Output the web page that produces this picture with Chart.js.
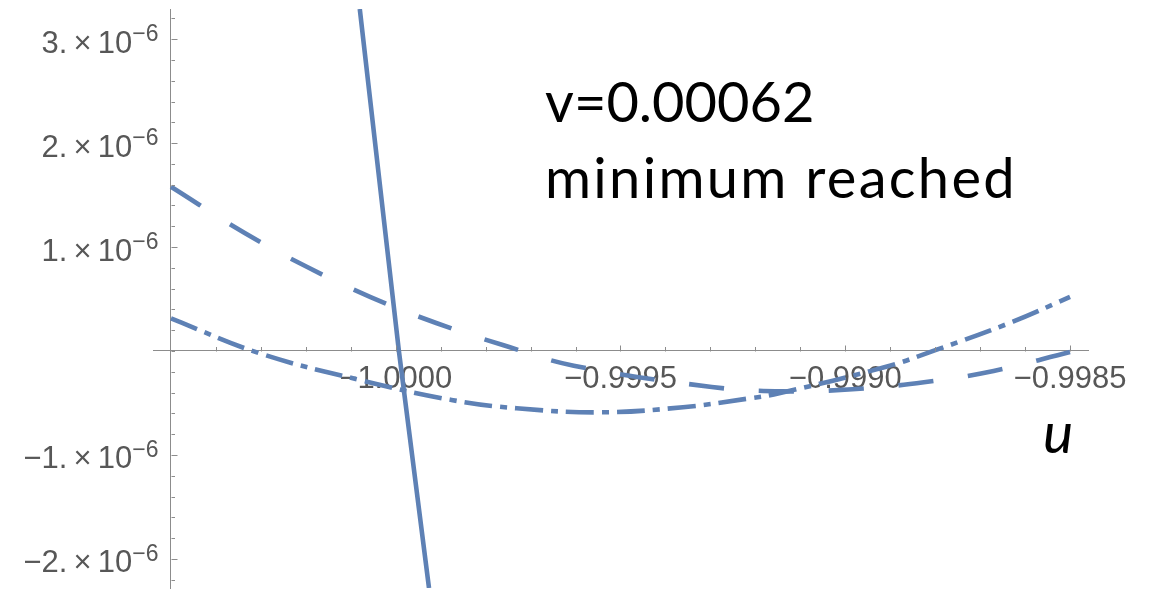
<!DOCTYPE html>
<html>
<head>
<meta charset="utf-8">
<script src="https://cdn.jsdelivr.net/npm/chart.js@4.4.1/dist/chart.umd.min.js"></script>
<style>
  html, body { margin: 0; padding: 0; background: #ffffff; }
</style>
</head>
<body>
<canvas id="uPlot" width="1155" height="602"></canvas>
<script>
// values (u on x, value on y)
var solidU = [-1.00008, -0.999993, -0.999926];
var solidV = [3.29e-6, 0, -2.28e-6];

var dashedU = [-1.0005, -1.000336, -1.000198, -1.000056, -0.99991, -0.99976, -0.999604, -0.999297, -0.99914, -0.998984, -0.998825, -0.99867, -0.9985];
var dashedV = [1.58e-6, 1.135e-6, 0.81e-6, 0.519e-6, 0.269e-6, 0.055e-6, -0.141e-6, -0.346e-6, -0.388e-6, -0.368e-6, -0.301e-6, -0.192e-6, -0.01e-6];

var dotDashU = [-1.0005, -1.000303, -1.00008, -0.999876, -0.999731, -0.999546, -0.999361, -0.999212, -0.999147, -0.998909, -0.998798, -0.998627, -0.9985];
var dotDashV = [0.314e-6, -0.022e-6, -0.279e-6, -0.471e-6, -0.551e-6, -0.59e-6, -0.541e-6, -0.455e-6, -0.407e-6, -0.151e-6, 0.01e-6, 0.282e-6, 0.52e-6];

var xMajor = [-1.0000, -0.9995, -0.9990, -0.9985];
var xMajorLabels = ["\u22121.0000", "\u22120.9995", "\u22120.9990", "\u22120.9985"];
var xMinorStep = 0.0001;

var yMajor = [3e-6, 2e-6, 1e-6, -1e-6, -2e-6];
var yMantissas = ["3.\u2009\u00d7\u200910", "2.\u2009\u00d7\u200910", "1.\u2009\u00d7\u200910", "\u22121.\u2009\u00d7\u200910", "\u22122.\u2009\u00d7\u200910"];
var yExponent = "\u22126";
var yMinorStep = 0.2e-6;

var noteLines = ["v=0.00062", "minimum reached"];
var xTitle = "u";

var lineBlue = "#5e81b5";
var axisGray = "#8c8c8c";
var labelGray = "#575757";
var tickFont = "'Liberation Sans', Arial, sans-serif";

function toPoints(us, vs) {
  return us.map(function (u, i) { return { x: u, y: vs[i] }; });
}

function stepTicks(min, max, step) {
  var out = [];
  var k0 = Math.ceil(min / step - 1e-6);
  var k1 = Math.floor(max / step + 1e-6);
  for (var k = k0; k <= k1; k++) out.push(+(k * step).toPrecision(8));
  return out;
}

function majorIndex(list, v, eps) {
  for (var i = 0; i < list.length; i++) if (Math.abs(list[i] - v) < eps) return i;
  return -1;
}

// Mathematica-style inner tick marks and y labels with a raised exponent
var axisMarks = {
  id: "axisMarks",
  afterDatasetsDraw: function (chart) {
    var ctx = chart.ctx, xs = chart.scales.x, ys = chart.scales.y;
    var xAxisPx = xs.getPixelForValue(-1.0005);
    var x0 = Math.round(xAxisPx) + 0.5;
    var y0 = Math.round(ys.getPixelForValue(0)) + 0.5;
    ctx.save();
    ctx.strokeStyle = axisGray;
    ctx.lineWidth = 1;
    ctx.beginPath();
    xs.ticks.forEach(function (t) {
      var px = Math.round(xs.getPixelForValue(t.value)) + 0.5;
      var len = majorIndex(xMajor, t.value, 1e-9) >= 0 ? 6 : 4.5;
      ctx.moveTo(px, y0);
      ctx.lineTo(px, y0 - len);
    });
    ys.ticks.forEach(function (t) {
      var py = Math.round(ys.getPixelForValue(t.value)) + 0.5;
      var len = majorIndex(yMajor, t.value, 1e-12) >= 0 ? 6 : 3.5;
      ctx.moveTo(x0, py);
      ctx.lineTo(x0 + len, py);
    });
    ctx.stroke();

    ctx.fillStyle = labelGray;
    ctx.textBaseline = "alphabetic";
    var right = xAxisPx - 12.5;
    yMajor.forEach(function (v, i) {
      var py = ys.getPixelForValue(v);
      ctx.font = "23px " + tickFont;
      var sw = ctx.measureText(yExponent).width;
      ctx.textAlign = "left";
      ctx.fillText(yExponent, right - sw, py + 2);
      ctx.font = "31px " + tickFont;
      ctx.textAlign = "right";
      ctx.fillText(yMantissas[i], right - sw, py + 13.5);
    });
    ctx.restore();
  }
};

var notes = {
  id: "notes",
  afterDraw: function (chart) {
    var ctx = chart.ctx;
    ctx.save();
    ctx.fillStyle = "#000000";
    ctx.textBaseline = "alphabetic";
    ctx.textAlign = "left";
    ctx.font = "56px Lato";
    ctx.fillText(noteLines[0], 545, 122);
    ctx.letterSpacing = "2.3px";
    ctx.fillText(noteLines[1], 545, 198);
    ctx.letterSpacing = "0px";
    ctx.font = "italic 57px Lato";
    ctx.fillText(xTitle, 1043, 453);
    ctx.restore();
  }
};

new Chart(document.getElementById("uPlot"), {
  type: "line",
  data: {
    datasets: [
      { data: toPoints(solidU, solidV), tension: 0 },
      { data: toPoints(dashedU, dashedV), borderDash: [35, 35], tension: 0.4 },
      { data: toPoints(dotDashU, dotDashV), borderDash: [28, 8, 7, 8], tension: 0.4 },
    ],
  },
  options: {
    responsive: false,
    animation: false,
    devicePixelRatio: 1,
    layout: { padding: { left: 153, right: 67, top: 9, bottom: 14 } },
    elements: {
      point: { radius: 0 },
      line: { borderColor: lineBlue, borderWidth: 4.6, fill: false, borderCapStyle: "butt" },
    },
    plugins: {
      legend: { display: false },
      tooltip: { enabled: false },
      title: { display: false },
    },
    scales: {
      x: {
        type: "linear",
        min: -1.00054,
        max: -0.99846,
        position: { y: 0 },
        afterBuildTicks: function (s) {
          s.ticks = stepTicks(-1.00045, -0.99846, xMinorStep).map(function (v) { return { value: v }; });
        },
        afterFit: function (s) { s.paddingLeft = 0; s.paddingRight = 0; },
        grid: { drawOnChartArea: false, drawTicks: false },
        border: { display: true, color: axisGray, width: 1 },
        ticks: {
          autoSkip: false,
          maxRotation: 0,
          minRotation: 0,
          padding: 10,
          color: labelGray,
          font: { family: tickFont, size: 31 },
          callback: function (value) {
            var i = majorIndex(xMajor, value, 1e-9);
            return i >= 0 ? xMajorLabels[i] : "";
          },
        },
      },
      y: {
        type: "linear",
        min: -2.28e-6,
        max: 3.29e-6,
        position: { x: -1.0005 },
        afterBuildTicks: function (s) {
          s.ticks = stepTicks(-2.28e-6, 3.29e-6, yMinorStep).map(function (v) { return { value: v }; });
        },
        afterFit: function (s) { s.paddingTop = 0; s.paddingBottom = 0; },
        grid: { drawOnChartArea: false, drawTicks: false },
        border: { display: true, color: axisGray, width: 1 },
        ticks: { display: false, autoSkip: false },
      },
    },
  },
  plugins: [axisMarks, notes],
});
</script>
</body>
</html>
